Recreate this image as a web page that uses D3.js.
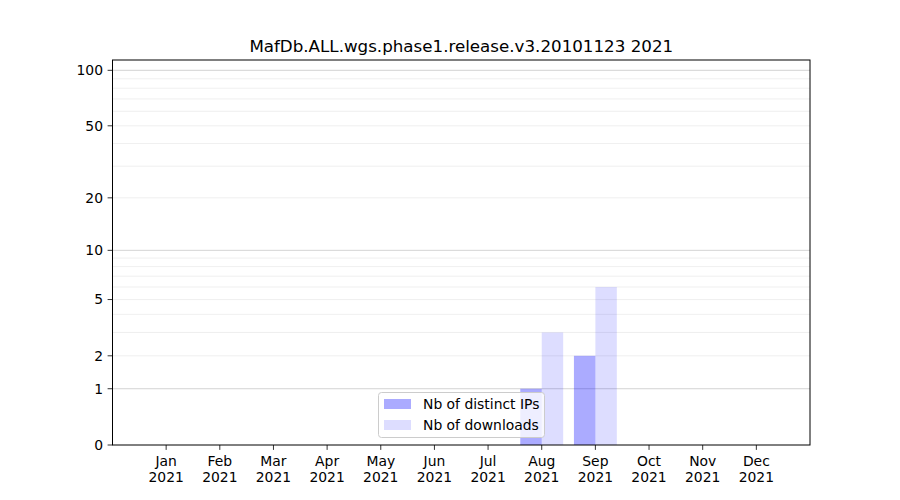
<!DOCTYPE html>
<html>
<head>
<meta charset="utf-8">
<script src="https://cdn.jsdelivr.net/npm/d3@7"></script>
<style>
  html, body { margin: 0; padding: 0; background: #fff; }
  svg { display: block; font-family: "DejaVu Sans", sans-serif; }
</style>
</head>
<body>
<svg id="chart" width="900" height="500"></svg>
<script>
const title = "MafDb.ALL.wgs.phase1.release.v3.20101123 2021";
const months = ["Jan","Feb","Mar","Apr","May","Jun","Jul","Aug","Sep","Oct","Nov","Dec"];
const yearLabel = "2021";
const ips = [0,0,0,0,0,0,0,1,2,0,0,0];
const downloads = [0,0,0,0,0,0,0,3,6,0,0,0];
const yTicks = [0,1,2,5,10,20,50,100];
const majorGrid = [1,10,100];
const minorGrid = [2,3,4,5,6,7,8,9,20,30,40,50,60,70,80,90];
const seriesNames = ["Nb of distinct IPs","Nb of downloads"];

const svg = d3.select("#chart");
const L = 112.5, R = 810, T = 60, B = 445;
const fs = "13.9px";

const x = d3.scaleLinear().domain([-1, 12]).range([L, R]);
const yT = d3.scaleLinear().domain([0, Math.log10(1 + 113.7)]).range([B, T]);
const y = v => yT(Math.log10(1 + v));

// grid
svg.append("g").selectAll("line").data(minorGrid).join("line")
  .attr("x1", L).attr("x2", R).attr("y1", d => y(d)).attr("y2", d => y(d))
  .attr("stroke", "#ebebeb").attr("stroke-width", 0.8);
svg.append("g").selectAll("line").data(majorGrid).join("line")
  .attr("x1", L).attr("x2", R).attr("y1", d => y(d)).attr("y2", d => y(d))
  .attr("stroke", "#c8c8c8").attr("stroke-width", 0.8);

const bw = 0.4;
const gBars = svg.append("g");
gBars.selectAll("rect.ip").data(ips.map((v, i) => ({v, i}))).join("rect")
  .attr("x", d => x(d.i - bw)).attr("width", x(bw) - x(0))
  .attr("y", d => y(d.v)).attr("height", d => B - y(d.v))
  .attr("fill", "#0000ff").attr("fill-opacity", 0.33);
gBars.selectAll("rect.dl").data(downloads.map((v, i) => ({v, i}))).join("rect")
  .attr("x", d => x(d.i)).attr("width", x(bw) - x(0))
  .attr("y", d => y(d.v)).attr("height", d => B - y(d.v))
  .attr("fill", "#0000ff").attr("fill-opacity", 0.135);

// axes frame
svg.append("rect").attr("x", L).attr("y", T).attr("width", R - L).attr("height", B - T)
  .attr("fill", "none").attr("stroke", "#000").attr("stroke-width", 1);

// x ticks
const xt = svg.append("g");
months.forEach((m, i) => {
  const px = x(i);
  xt.append("line").attr("x1", px).attr("x2", px).attr("y1", B).attr("y2", B + 4.9)
    .attr("stroke", "#000").attr("stroke-width", 0.8);
  const t = xt.append("text").attr("x", px).attr("text-anchor", "middle")
    .attr("font-size", fs).attr("fill", "#000");
  t.append("tspan").attr("x", px).attr("y", 466).text(m);
  t.append("tspan").attr("x", px).attr("y", 482).text(yearLabel);
});

// y ticks
const yt = svg.append("g");
yTicks.forEach(v => {
  const py = y(v);
  yt.append("line").attr("x1", L - 4.9).attr("x2", L).attr("y1", py).attr("y2", py)
    .attr("stroke", "#000").attr("stroke-width", 0.8);
  yt.append("text").attr("x", L - 9.5).attr("y", py).attr("dy", "0.35em")
    .attr("text-anchor", "end").attr("font-size", fs).attr("fill", "#000").text(v);
});

// title
svg.append("text").attr("x", (L + R) / 2).attr("y", 52).attr("text-anchor", "middle")
  .attr("font-size", "16.7px").attr("fill", "#000").text(title);

// legend
const lg = svg.append("g");
lg.append("rect").attr("x", 378.5).attr("y", 392.5).attr("width", 166).attr("height", 45)
  .attr("rx", 3).attr("fill", "#fff").attr("fill-opacity", 0.8)
  .attr("stroke", "#cccccc").attr("stroke-width", 1);
const ops = [0.33, 0.135];
seriesNames.forEach((n, k) => {
  const cy = 404 + k * 21;
  lg.append("rect").attr("x", 384).attr("y", cy - 5).attr("width", 27).attr("height", 10)
    .attr("fill", "#0000ff").attr("fill-opacity", ops[k]);
  lg.append("text").attr("x", 423).attr("y", cy).attr("dy", "0.35em")
    .attr("font-size", fs).attr("fill", "#000").text(n);
});
</script>
</body>
</html>
